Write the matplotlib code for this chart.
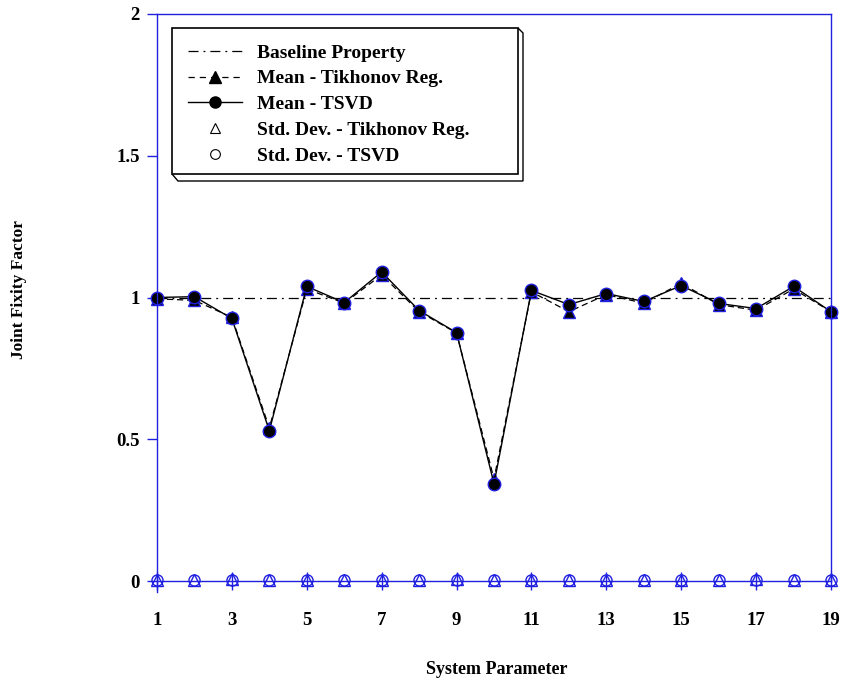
import numpy as np
import matplotlib.pyplot as plt
from matplotlib.lines import Line2D
from matplotlib.patches import Rectangle, Polygon

plt.rcParams["font.family"] = "Liberation Serif"
plt.rcParams["font.weight"] = "bold"

# system parameter index
params = np.arange(1, 20)

baseline = [1.0] * 19

mean_tik = [0.995, 0.99, 0.93, 0.54, 1.03, 0.98, 1.08, 0.95, 0.875, 0.36,
            1.02, 0.95, 1.01, 0.98, 1.05, 0.975, 0.955, 1.03, 0.95]
mean_tsvd = [1.0, 1.003, 0.926, 0.53, 1.039, 0.982, 1.09, 0.954, 0.876, 0.343,
             1.025, 0.975, 1.014, 0.986, 1.042, 0.979, 0.961, 1.039, 0.95]

std_tik = [0.004, 0.004, 0.006, 0.004, 0.004, 0.004, 0.005, 0.004, 0.006, 0.004,
           0.004, 0.004, 0.004, 0.005, 0.004, 0.005, 0.006, 0.004, 0.005]
std_tsvd = [0.002, 0.002, 0.003, 0.002, 0.002, 0.002, 0.002, 0.002, 0.003, 0.002,
            0.002, 0.002, 0.002, 0.003, 0.002, 0.002, 0.002, 0.002, 0.003]

blue = "#2020e0"
W, H = 842, 679


def px(x, y):
    # pixel position (from top-left) -> figure fraction
    return x / W, 1 - y / H


fig = plt.figure(figsize=(W / 100, H / 100), dpi=100)
ax = fig.add_axes([157 / W, 98 / H, (831 - 157) / W, (581 - 14) / H])

dashdot = (0, (8, 4, 1.5, 4))
ax.plot(params, baseline, color="black", linestyle=dashdot, linewidth=0.9)
ax.plot(params, mean_tik, color="black", linestyle=(0, (5, 3)), linewidth=0.9,
        marker="^", markersize=9, markerfacecolor="black", markeredgecolor=blue,
        markeredgewidth=1, clip_on=False)
ax.plot(params, mean_tsvd, color="black", linestyle="-", linewidth=1,
        marker="o", markersize=9, markerfacecolor="black", markeredgecolor=blue,
        markeredgewidth=1, clip_on=False)
ax.plot(params, std_tik, linestyle="none", marker="^", markersize=8.5,
        markerfacecolor="none", markeredgecolor=blue, markeredgewidth=1, clip_on=False)
ax.plot(params, std_tsvd, linestyle="none", marker="o", markersize=8,
        markerfacecolor="none", markeredgecolor=blue, markeredgewidth=1, clip_on=False)

ax.set_xlim(1, 19)
ax.set_ylim(0, 2)
ax.set_xticks(np.arange(1, 20, 2))
ax.set_yticks([0, 0.5, 1, 1.5, 2])
ax.set_yticklabels(["0", "0.5", "1", "1.5", "2"])

for s in ax.spines.values():
    s.set_color(blue)
    s.set_linewidth(1)
ax.spines["left"].set_bounds(-0.04, 2)

ax.tick_params(axis="x", direction="inout", length=13, width=1, color=blue,
               pad=15.5, labelsize=13.5)
ax.tick_params(axis="y", direction="out", length=7.5, width=1, color=blue,
               pad=5, labelsize=13.5)

ax.set_xlabel("System Parameter", fontsize=13, fontweight="bold")
ax.xaxis.set_label_coords(0.5045, (581 - 661) / 567)
ax.set_ylabel("Joint Fixity Factor", fontsize=12.5, fontweight="bold")
ax.yaxis.set_label_coords((27 - 157) / 674, (581 - 290) / 567)

# legend frame with bevelled edge
fx0, fy0 = px(172, 174)
fx1, fy1 = px(518, 28)
fig.patches.append(Rectangle((fx0, fy0), fx1 - fx0, fy1 - fy0, transform=fig.transFigure,
                             facecolor="white", edgecolor="black", linewidth=1.2, zorder=5))
bevel = [px(518, 28), px(523, 33), px(523, 181), px(178, 181), px(172, 174)]
fig.patches.append(Polygon(bevel, closed=False, transform=fig.transFigure,
                           facecolor="none", edgecolor="black", linewidth=1.0, zorder=5))

handles = [
    Line2D([], [], color="black", linestyle=dashdot, linewidth=0.9),
    Line2D([], [], color="black", linestyle=(0, (5, 4)), linewidth=0.9,
           marker="^", markersize=8, markerfacecolor="black", markeredgecolor="black"),
    Line2D([], [], color="black", linestyle="-", linewidth=1,
           marker="o", markersize=8, markerfacecolor="black", markeredgecolor="black"),
    Line2D([], [], linestyle="none", marker="^", markersize=7,
           markerfacecolor="white", markeredgecolor="black", markeredgewidth=0.8),
    Line2D([], [], linestyle="none", marker="o", markersize=7,
           markerfacecolor="white", markeredgecolor="black", markeredgewidth=0.8),
]
labels = ["Baseline Property", "Mean - Tikhonov Reg.", "Mean - TSVD",
          "Std. Dev. - Tikhonov Reg.", "Std. Dev. - TSVD"]
leg = fig.legend(handles, labels, loc="upper left", bbox_to_anchor=px(172, 28),
                 bbox_transform=fig.transFigure, frameon=False, borderaxespad=0,
                 borderpad=0.82, handlelength=2.8, labelspacing=0.42, handletextpad=0.77,
                 prop={"family": "Liberation Serif", "weight": "bold", "size": 14})
leg.set_zorder(6)

fig.savefig("out.png", dpi=100)
